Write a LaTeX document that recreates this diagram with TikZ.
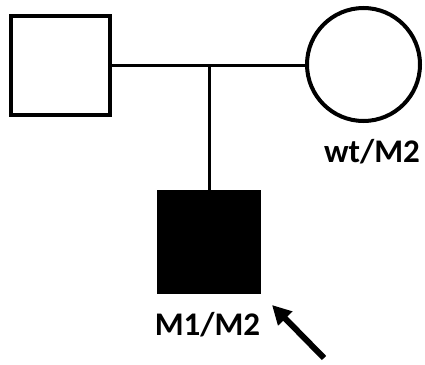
\documentclass[tikz,border=0pt]{standalone}
\usepackage{fontspec}
\setmainfont{Carlito}
\usetikzlibrary{arrows.meta}
\begin{document}
\begin{tikzpicture}[x=1pt,y=-1pt,
  person/.style={draw=black,line width=4pt,minimum size=99pt,inner sep=0pt,outer sep=0pt},
  link/.style={draw=black,line width=3pt},
  lbl/.style={font=\fontsize{33}{40}\selectfont\bfseries,inner sep=0pt,anchor=base}]
\useasboundingbox (0,0) rectangle (425,364);
\node[person,rectangle,fill=white] (father) at (60.5,65) {};
\node[person,circle,minimum size=113pt,fill=white] (mother) at (363.5,64.5) {};
\node[person,rectangle,fill=black,minimum size=100pt] (child) at (209,241.5) {};
\coordinate (mid) at (209,65);
\draw[link] (father.east) -- (mother.west |- father.east);
\draw[link] (mid) -- (child.north);
\node[lbl] (mlabel) at (372,162) {wt/M2};
\node[lbl] (clabel) at (207.5,335) {M1/M2};
\coordinate (tail) at (324,358);
\coordinate (tip) at (272,305);
\draw[line width=6pt,-{Triangle[length=19pt,width=19pt]}] (tail) -- (tip);
\end{tikzpicture}
\end{document}
